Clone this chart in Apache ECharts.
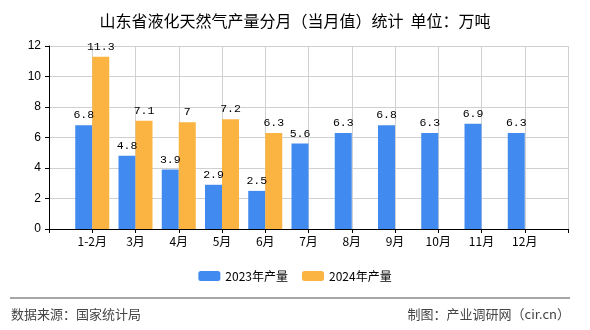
<!DOCTYPE html>
<html><head><meta charset="utf-8">
<script src="https://cdn.jsdelivr.net/npm/echarts@6/dist/echarts.min.js"></script>
<style>html,body{margin:0;padding:0;background:#fff}#c{width:590px;height:330px}</style>
</head><body><div id="c"></div>
<script>
const titleText = '山东省液化天然气产量分月（当月值）统计  单位：万吨';
const categories = ['', '1-2月', '3月', '4月', '5月', '6月', '7月', '8月', '9月', '10月', '11月', '12月', ''];
const seriesNames = ['2023年产量', '2024年产量'];
const values2023 = [null, 6.8, 4.8, 3.9, 2.9, 2.5, 5.6, 6.3, 6.8, 6.3, 6.9, 6.3, null];
const values2024 = [null, 11.3, 7.1, 7, 7.2, 6.3, null, null, null, null, null, null, null];
const yTicks = [0, 2, 4, 6, 8, 10, 12];
const sourceText = '数据来源：国家统计局';
const creditText = '制图：产业调研网（cir.cn）';

const chart = echarts.init(document.getElementById('c'));
const labelStyle = {show: true, position: 'top', distance: 4, color: '#000', fontFamily: 'Liberation Mono, monospace', fontSize: 11.5};
chart.setOption({
  animation: false,
  title: {text: titleText, left: 'center', top: 8, textStyle: {fontSize: 16, fontWeight: 'normal', color: '#000', fontFamily: 'Noto Sans CJK SC'}},
  grid: {left: 49, right: 22, top: 46, bottom: 101},
  legend: {data: seriesNames, bottom: 43, left: 'center', itemWidth: 22, itemHeight: 10, itemGap: 14,
    textStyle: {fontSize: 12, color: '#000', fontFamily: 'Noto Sans CJK SC'}},
  xAxis: {type: 'category', data: categories, boundaryGap: false,
    axisLine: {lineStyle: {color: '#000'}},
    axisTick: {show: true, length: 4, lineStyle: {color: '#000'}},
    axisLabel: {color: '#000', fontSize: 12, margin: 6, fontFamily: 'Noto Sans CJK SC', interval: 0},
    splitLine: {show: true, lineStyle: {color: '#d0d0d0'}}},
  yAxis: {type: 'value', min: yTicks[0], max: yTicks[yTicks.length - 1], interval: 2,
    axisLine: {show: true, lineStyle: {color: '#000'}},
    axisTick: {show: true, length: 4, lineStyle: {color: '#000'}},
    axisLabel: {color: '#000', fontSize: 12, margin: 8, fontFamily: 'Liberation Sans'},
    splitLine: {show: true, lineStyle: {color: '#d0d0d0'}}},
  series: [
    {name: seriesNames[0], type: 'bar', data: values2023, barWidth: 17, barGap: '0%', itemStyle: {color: '#418AF0'}, label: labelStyle},
    {name: seriesNames[1], type: 'bar', data: values2024, barWidth: 17, barGap: '0%', itemStyle: {color: '#FBB342'}, label: labelStyle}
  ],
  graphic: [
    {type: 'line', shape: {x1: 10, y1: 298, x2: 570, y2: 298}, style: {stroke: '#888', lineWidth: 1.5}},
    {type: 'text', left: 11, top: 308, style: {text: sourceText, fill: '#444', fontSize: 13, fontFamily: 'Noto Sans CJK SC'}},
    {type: 'text', right: 20, top: 308, style: {text: creditText, fill: '#444', fontSize: 13, fontFamily: 'Noto Sans CJK SC'}}
  ]
});
</script></body></html>
